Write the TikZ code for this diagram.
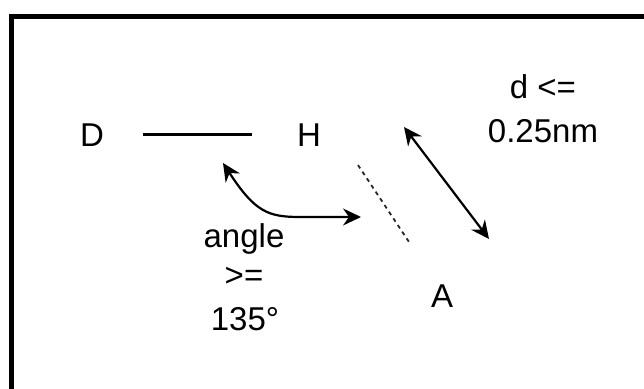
\documentclass[tikz,border=0pt]{standalone}
\usepackage{fontspec}
\setmainfont{Liberation Sans}
\usetikzlibrary{arrows.meta}
\begin{document}
\begin{tikzpicture}[x=1pt,y=-1pt,
  lbl/.style={font=\fontsize{33}{42}\selectfont, inner sep=0pt, anchor=base, text=black},
  conn/.style={line width=2.2pt, black},
  dtip/.style={{Stealth[length=18pt,width=17pt,inset=6pt]}-{Stealth[length=18pt,width=17pt,inset=6pt]}}]
\useasboundingbox (0,0) rectangle (644,388);
\draw[line width=5pt] (11.5,16.5) rectangle (720,460);
% labels
\node[lbl] (D) at (92,146) {D};
\node[lbl] (H) at (309,146) {H};
\node[lbl] (A) at (442,307) {A};
\node[lbl] (d1) at (543,98) {d <=};
\node[lbl] (d2) at (543,142) {0.25nm};
\node[lbl] (a1) at (244,247) {angle};
\node[lbl] (a2) at (244,286) {>=};
\node[lbl] (a3) at (245,330) {135°};
% connector end points
\coordinate (dh1) at (143,134.5);
\coordinate (dh2) at (252,134.5);
\coordinate (c1) at (223,163);
\coordinate (c2) at (361,217);
\coordinate (s1) at (404,127);
\coordinate (s2) at (489,239);
\coordinate (h1) at (358,165);
\coordinate (h2) at (411,245);
% connectors
\draw[conn] (dh1) -- (dh2);
\draw[conn,dtip] (c1) .. controls (255,212) and (268,217) .. (300,217) -- (c2);
\draw[conn,dtip] (s1) -- (s2);
\draw[line width=1.8pt, black!85, dash pattern=on 4pt off 4pt] (h1) -- (h2);
\end{tikzpicture}
\end{document}
